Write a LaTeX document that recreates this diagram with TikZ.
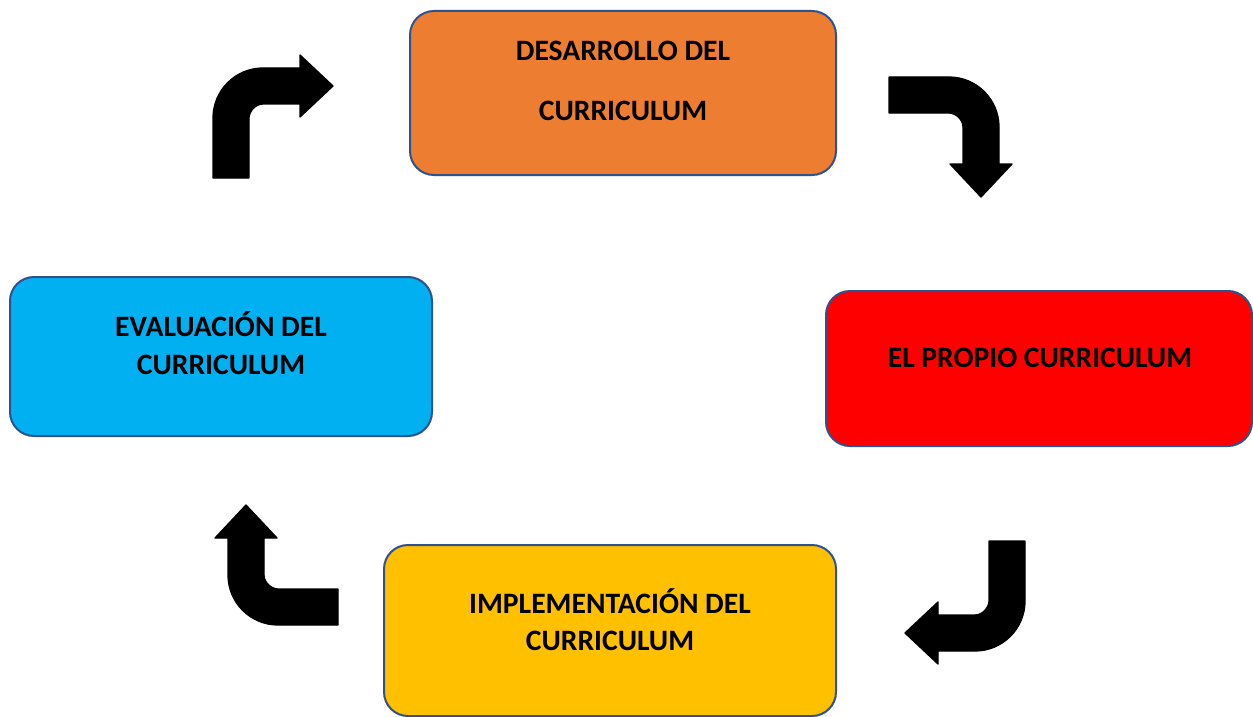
\documentclass[tikz,border=0pt]{standalone}
\usepackage{fontspec}
\setmainfont{Carlito}
\definecolor{cOrange}{HTML}{ED7D31}
\definecolor{cRed}{HTML}{FF0000}
\definecolor{cBlue}{HTML}{00B0F0}
\definecolor{cYellow}{HTML}{FFC000}
\definecolor{cEdge}{HTML}{2F528F}
\tikzset{
  box/.style={draw=cEdge, line width=1.5pt, rounded corners=18pt},
  lbl/.style={anchor=base, inner sep=0pt, font=\fontsize{22.2}{26}\selectfont\bfseries},
  pics/turnarrow/.style={code={
    \fill[black, draw=black, line width=1pt, line join=round]
      (0,123) -- (0,63) .. controls (0,35.4) and (22.4,13) .. (50,13)
      -- (87,13) -- (87,0) -- (120,31) -- (87,62) -- (87,49) -- (50,49)
      .. controls (42.3,49) and (36,56.7) .. (36,63) -- (36,123) -- cycle;
  }}
}
\begin{document}
\begin{tikzpicture}[x=0.75pt, y=-0.75pt]
\clip (0,0) rectangle (1253,717);
\fill[white] (0,0) rectangle (1253,717);
% boxes
\draw[box, fill=cOrange] (410,11) rectangle (836,175);
\node[lbl] (des1) at (623,61) {DESARROLLO DEL};
\node[lbl] (des2) at (623,121) {CURRICULUM};
\draw[box, fill=cRed] (826,291) rectangle (1252,446);
\node[lbl] (pro1) at (1040,367) {EL PROPIO CURRICULUM};
\draw[box, fill=cBlue] (10,277) rectangle (432,436);
\node[lbl] (eva1) at (221,336) {EVALUACIÓN DEL};
\node[lbl] (eva2) at (221,374) {CURRICULUM};
\draw[box, fill=cYellow] (384,545) rectangle (836,716);
\node[lbl] (imp1) at (610,613) {IMPLEMENTACIÓN DEL};
\node[lbl] (imp2) at (610,650) {CURRICULUM};
% bent arrows
\pic[shift={(213,55)}] {turnarrow};
\pic[shift={(1012,77)}, rotate=-90] {turnarrow};
\pic[shift={(1025,664)}, rotate=180] {turnarrow};
\pic[shift={(215,625)}, rotate=90] {turnarrow};
\end{tikzpicture}
\end{document}
